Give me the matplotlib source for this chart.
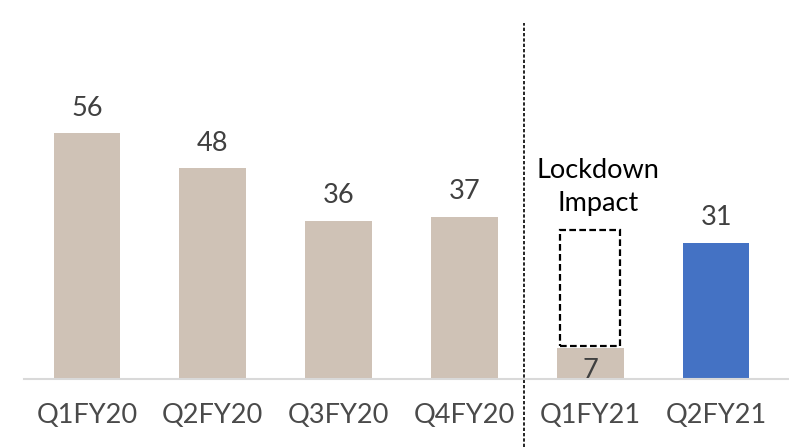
import matplotlib
matplotlib.use("Agg")
import matplotlib.pyplot as plt
from matplotlib.patches import Rectangle

categories = ["Q1FY20", "Q2FY20", "Q3FY20", "Q4FY20", "Q1FY21", "Q2FY21"]
values = [56, 48, 36, 37, 7, 31]
bar_colors = ["#CFC2B6", "#CFC2B6", "#CFC2B6", "#CFC2B6", "#CFC2B6", "#4472C4"]
lockdown_total = 34  # top of dashed "Lockdown Impact" box
lockdown_label = "Lockdown\nImpact"

plt.rcParams['font.family'] = ['Lato', 'DejaVu Sans']

W, H = 789, 447
fig = plt.figure(figsize=(W / 100, H / 100), dpi=100)
ax_left, ax_right = 24 / W, 779 / W
ax_bottom, ax_top = (H - 379) / H, 1.0
ax = fig.add_axes([ax_left, ax_bottom, ax_right - ax_left, ax_top - ax_bottom])

x = list(range(len(categories)))
bw = 0.53
ax.bar(x, values, width=bw, color=bar_colors, zorder=2)

ax.set_xlim(-0.5, len(categories) - 0.5)
ymax = 379 / 4.39
ax.set_ylim(0, ymax)

# dashed lockdown box
idx = 4
ax.add_patch(Rectangle((idx - 0.24, values[idx] + 0.5), 0.48, lockdown_total - values[idx] - 0.5,
                       fill=False, edgecolor="black", linestyle=(0, (3, 1.5)), linewidth=1.6, zorder=3))
ax.text(idx + 0.06, lockdown_total + 3.2, lockdown_label, ha="center", va="bottom",
        fontsize=19.5, color="black", linespacing=1.4)

# value labels
for i, v in enumerate(values):
    if i == idx:
        ax.annotate(str(v), (i, v), xytext=(0, -7), textcoords="offset points",
                    ha="center", va="top", fontsize=19.5, color="#404040", zorder=4)
    else:
        ax.annotate(str(v), (i, v), xytext=(0, 9), textcoords="offset points",
                    ha="center", va="bottom", fontsize=19.5, color="#404040")

# separator dotted line
sep_x = 3.47
ax.axvline(sep_x, ymin=-(H - 379) / 379, ymax=(379 - 23) / 379, color="black",
           linestyle=(0, (2, 1.2)), linewidth=1.2, clip_on=False, zorder=1)

ax.set_xticks(x)
ax.set_xticklabels(categories, fontsize=19.5, color="#4a4a4a")
ax.tick_params(axis="x", length=0, pad=17)
ax.set_yticks([])
for s in ["top", "right", "left"]:
    ax.spines[s].set_visible(False)
ax.spines["bottom"].set_color("#D9D9D9")
ax.spines["bottom"].set_linewidth(1.5)
ax.spines["bottom"].set_bounds(-0.5, 5.6)
ax.spines["bottom"].set_clip_on(False)

fig.savefig("out.png", dpi=100)
